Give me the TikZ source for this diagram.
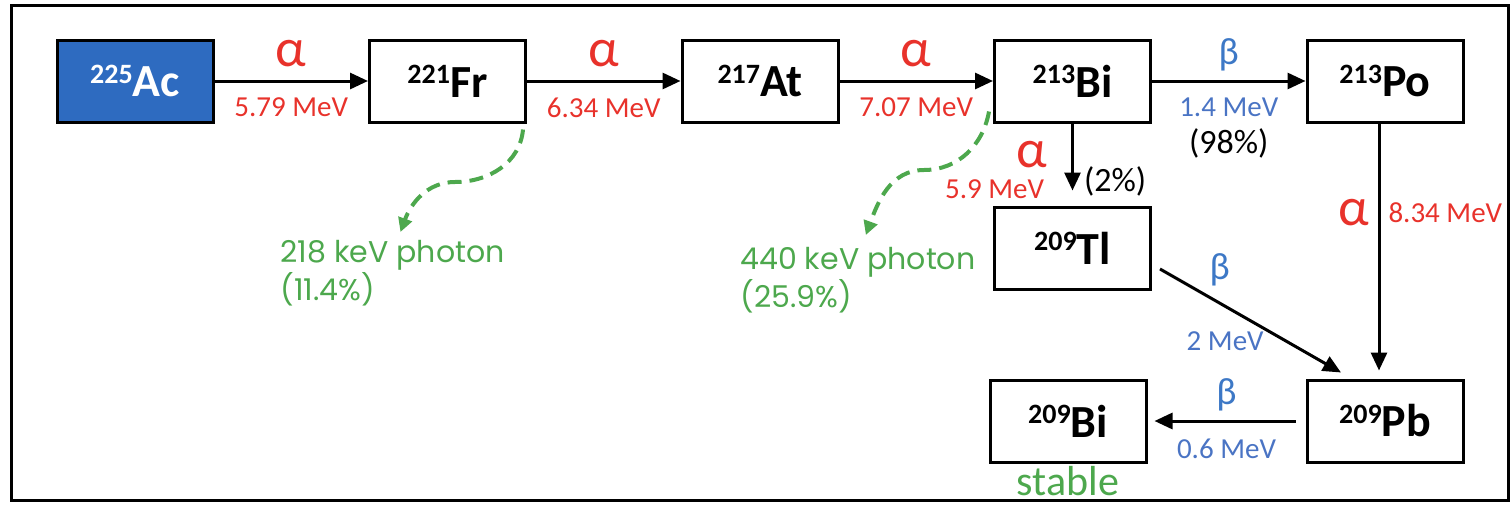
\documentclass[tikz,border=0pt]{standalone}
\usepackage{fontspec}
\setmainfont{Carlito}
\newfontfamily\gothicfont{Poppins}
\usetikzlibrary{arrows.meta,positioning}

\definecolor{acblue}{HTML}{2E6BC0}
\definecolor{alphared}{HTML}{E8322B}
\definecolor{betablue}{HTML}{3D78C6}
\definecolor{mevblue}{HTML}{4A74C4}
\definecolor{photongreen}{HTML}{4DA84D}

\newcommand{\nuc}[2]{\raisebox{0.3em}{\fontsize{14}{14}\selectfont #1}#2}

\begin{document}
\begin{tikzpicture}[
  x=0.5pt, y=-0.5pt,
  >={Triangle[length=9pt,width=8pt]},
  nuclide/.style={draw, line width=1.5pt, minimum width=78pt, minimum height=41pt, inner sep=0pt, font=\bfseries\fontsize{23}{25}\selectfont},
  decay/.style={->, line width=1.5pt},
  alabel/.style={text=alphared, inner sep=0pt, font=\fontsize{27}{27}\selectfont},
  blabel/.style={text=betablue, inner sep=0pt, font=\fontsize{19}{19}\selectfont},
  amev/.style={text=alphared, inner sep=0pt, font=\fontsize{14.5}{16}\selectfont},
  bmev/.style={text=mevblue, inner sep=0pt, font=\fontsize{14.5}{16}\selectfont},
  branch/.style={inner sep=0pt, font=\fontsize{17}{19}\selectfont},
  photon/.style={->, >={Triangle[length=7pt,width=7pt]}, draw=photongreen, line width=2pt, dash pattern=on 7pt off 4pt},
  gammatext/.style={text=photongreen, inner sep=0pt, align=left, font=\gothicfont\fontsize{15}{14.5}\selectfont}
]
\useasboundingbox (0,0) rectangle (1511,504);
\draw[line width=1.5pt] (11,5) rectangle (1508,500);

% decay chain
\node[nuclide, fill=acblue, text=white] (ac) at (135,81) {\nuc{225}{Ac}};
\node[nuclide, right=76.75pt of ac] (fr) {\nuc{221}{Fr}};
\node[nuclide, right=76.75pt of fr] (at) {\nuc{217}{At}};
\node[nuclide, right=76.75pt of at] (bi213) {\nuc{213}{Bi}};
\node[nuclide, right=76.75pt of bi213] (po) {\nuc{213}{Po}};
\node[nuclide, below=41pt of bi213] (tl) {\nuc{209}{Tl}};
\node[nuclide, below=127.5pt of po] (pb) {\nuc{209}{Pb}};
\node[nuclide, left=79pt of pb] (bi209) {\nuc{209}{Bi}};
\node[inner sep=0pt, text=photongreen, font=\fontsize{21}{21}\selectfont, below=1pt of bi209] (stable) {stable};

\draw[decay] (ac) -- node[alabel, above=6.5pt]{α} node[amev, below=7.5pt]{5.79 MeV} (fr);
\draw[decay] (fr) -- node[alabel, above=6.5pt]{α} node[amev, below=7.5pt]{6.34 MeV} (at);
\draw[decay] (at) -- node[alabel, above=6.5pt]{α} node[amev, below=7.5pt]{7.07 MeV} (bi213);
\draw[decay] (bi213) -- node[blabel, above=4pt]{β} node[bmev, below=7.5pt] (m98) {1.4 MeV} (po);
\node[branch, below=5pt of m98] (b98) {(98\%)};

\draw[decay, shorten >=7.5pt] (bi213) -- node[alabel, pos=0.38, left=12pt]{α}
  node[amev, pos=0.8, left=13.5pt]{5.9 MeV} node[branch, pos=0.71, right=5pt]{(2\%)} (tl);
\draw[decay, shorten >=4pt] ([xshift=-3pt]po.south) -- node[alabel, pos=0.35, left=4pt]{α}
  node[amev, pos=0.35, right=4pt]{8.34 MeV} ([xshift=-3pt]pb.north);
\draw[decay] ([xshift=4pt,yshift=-10.5pt]tl.east) -- node[blabel, pos=0.33, above=8pt]{β}
  node[bmev, pos=0.36, below=12pt]{2 MeV} ([xshift=-22pt,yshift=3pt]pb.north);
\draw[decay, shorten <=5pt, shorten >=3.5pt] (pb) -- node[blabel, above=4pt]{β}
  node[bmev, below=8pt]{0.6 MeV} (bi209);

% gamma emissions
\node[gammatext, anchor=north west] (ph1) at (280,240) {218 keV photon\\(11.4\%)};
\node[gammatext, anchor=north west] (ph2) at (740,247) {440 keV photon\\(25.9\%)};
\coordinate (frg) at (455,182);
\coordinate (big) at (924,170);
\draw[photon] ([xshift=-2pt,yshift=-3pt]fr.south east) to[out=-95,in=0] (frg)
  to[out=180,in=70] ([xshift=4pt,yshift=4pt]ph1.north);
\draw[photon] ([xshift=-2pt,yshift=6pt]bi213.south west) to[out=-100,in=0] (big)
  to[out=180,in=70] ([xshift=4pt,yshift=6pt]ph2.north);
\end{tikzpicture}
\end{document}
